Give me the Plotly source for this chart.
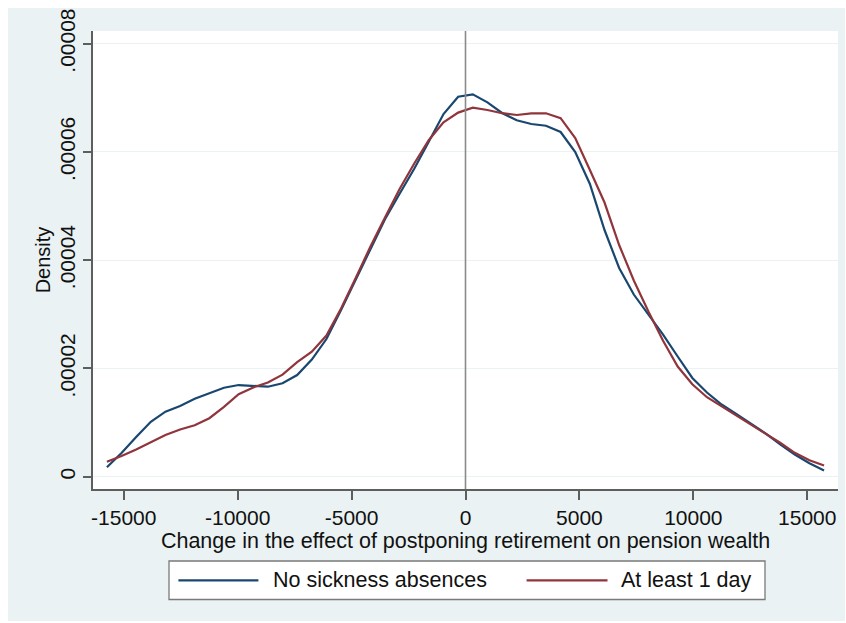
import plotly.graph_objects as go

# ---- data ----
x_values = [-15740, -15098, -14455, -13813, -13170, -12528, -11886, -11243, -10601, -9958,
            -9316, -8674, -8031, -7389, -6746, -6104, -5462, -4819, -4177, -3534,
            -2892, -2250, -1607, -965, -322, 320, 963, 1605, 2248, 2890,
            3532, 4175, 4817, 5460, 6102, 6744, 7387, 8029, 8672, 9314,
            9956, 10599, 11241, 11884, 12526, 13168, 13811, 14453, 15096, 15738]

# densities in units of 1e-5
no_sickness = [0.174, 0.438, 0.733, 1.016, 1.201, 1.306, 1.441, 1.546, 1.643, 1.694,
               1.676, 1.663, 1.726, 1.879, 2.165, 2.544, 3.080, 3.643, 4.220, 4.758,
               5.229, 5.689, 6.193, 6.701, 7.021, 7.065, 6.917, 6.720, 6.585, 6.516,
               6.485, 6.369, 5.999, 5.408, 4.558, 3.856, 3.366, 3.006, 2.624, 2.221,
               1.824, 1.556, 1.334, 1.162, 0.987, 0.802, 0.600, 0.410, 0.248, 0.115]
at_least_1 = [0.277, 0.382, 0.503, 0.632, 0.770, 0.872, 0.950, 1.081, 1.291, 1.524,
              1.650, 1.742, 1.886, 2.116, 2.311, 2.609, 3.108, 3.671, 4.249, 4.789,
              5.315, 5.787, 6.221, 6.548, 6.727, 6.818, 6.775, 6.716, 6.683, 6.714,
              6.714, 6.624, 6.258, 5.667, 5.066, 4.281, 3.625, 3.052, 2.513, 2.036,
              1.707, 1.469, 1.301, 1.134, 0.977, 0.811, 0.628, 0.442, 0.303, 0.207]
SCALE = 1e-5

series_names = ["No sickness absences", "At least 1 day"]
series_colors = ["#1A476F", "#90353B"]

x_ticks = [-15000, -10000, -5000, 0, 5000, 10000, 15000]
x_ticktext = ["-15000", "-10000", "-5000", "0", "5000", "10000", "15000"]
y_ticks = [0, 0.00002, 0.00004, 0.00006, 0.00008]
y_ticktext = ["0", ".00002", ".00004", ".00006", ".00008"]
x_line = 0

x_title = "Change in the effect of postponing retirement on pension wealth"
y_title = "Density"

FONT = "Liberation Sans, Arial, sans-serif"
BG = "#EAF2F3"
W, H = 846, 623
ML, MR, MT, MB = 93, 8, 31, 134
PW, PH = W - ML - MR, H - MT - MB


def px(xp):
    return (xp - ML) / PW


def py(yp):
    return (H - MB - yp) / PH


fig = go.Figure()
for name, col, vals in zip(series_names, series_colors, [no_sickness, at_least_1]):
    fig.add_trace(go.Scatter(
        x=x_values, y=[v * SCALE for v in vals], mode="lines", name=name,
        line=dict(color=col, width=2.2), hoverinfo="skip", showlegend=False))

shapes = [
    # outer graph region
    dict(type="rect", xref="paper", yref="paper", x0=px(8), x1=px(845),
         y0=py(621), y1=py(8), fillcolor=BG, line=dict(width=0), layer="below"),
    # plot region
    dict(type="rect", xref="paper", yref="paper", x0=0, x1=1, y0=0, y1=1,
         fillcolor="white", line=dict(width=0), layer="below"),
    # reference line at x = 0
    dict(type="line", xref="x", yref="paper", x0=x_line, x1=x_line, y0=0, y1=1,
         line=dict(color="#8A8A8A", width=1.6), layer="above"),
    # legend box
    dict(type="rect", xref="paper", yref="paper", x0=px(169), x1=px(765),
         y0=py(599.5), y1=py(561), fillcolor="white",
         line=dict(color="#7A7A7A", width=1.3), layer="above"),
]
annotations = []
leg_y = py(580.3)
leg_items = [(178.4, 258.4, 272), (526.6, 607.5, 620.4)]
for (lx0, lx1, tx), name, col in zip(leg_items, series_names, series_colors):
    shapes.append(dict(type="line", xref="paper", yref="paper", x0=px(lx0), x1=px(lx1),
                       y0=leg_y, y1=leg_y, line=dict(color=col, width=2.2), layer="above"))
    annotations.append(dict(xref="paper", yref="paper", x=px(tx), y=leg_y, text=name,
                            showarrow=False, xanchor="left", yanchor="middle",
                            xshift=-1,
                            font=dict(size=21.5, family=FONT, color="#111111")))

fig.update_layout(
    width=W, height=H,
    margin=dict(l=ML, r=MR, t=MT, b=MB),
    paper_bgcolor="white", plot_bgcolor="white",
    font=dict(family=FONT, color="#111111", size=21),
    showlegend=False,
    shapes=shapes,
    annotations=annotations,
)

fig.update_xaxes(
    range=[-16350, 16350], tickvals=x_ticks, ticktext=x_ticktext,
    showgrid=False, zeroline=False, showline=True, linecolor="#5E5E5E", linewidth=1.5,
    ticks="outside", ticklen=9, tickwidth=1.5, tickcolor="#5E5E5E",
    tickfont=dict(size=21, family=FONT),
    title=dict(text=x_title, font=dict(size=21.5, family=FONT), standoff=0),
)
fig.update_yaxes(
    range=[-0.00000227, 0.00008235], tickvals=y_ticks, ticktext=y_ticktext,
    tickangle=-90, showgrid=True, gridcolor=BG, gridwidth=1.2, zeroline=False,
    showline=True, linecolor="#5E5E5E", linewidth=1.5,
    ticks="outside", ticklen=8, tickwidth=1.5, tickcolor="#5E5E5E",
    tickfont=dict(size=21, family=FONT),
    title=dict(text=y_title, font=dict(size=20, family=FONT), standoff=0),
)

fig.write_html("out.html")
